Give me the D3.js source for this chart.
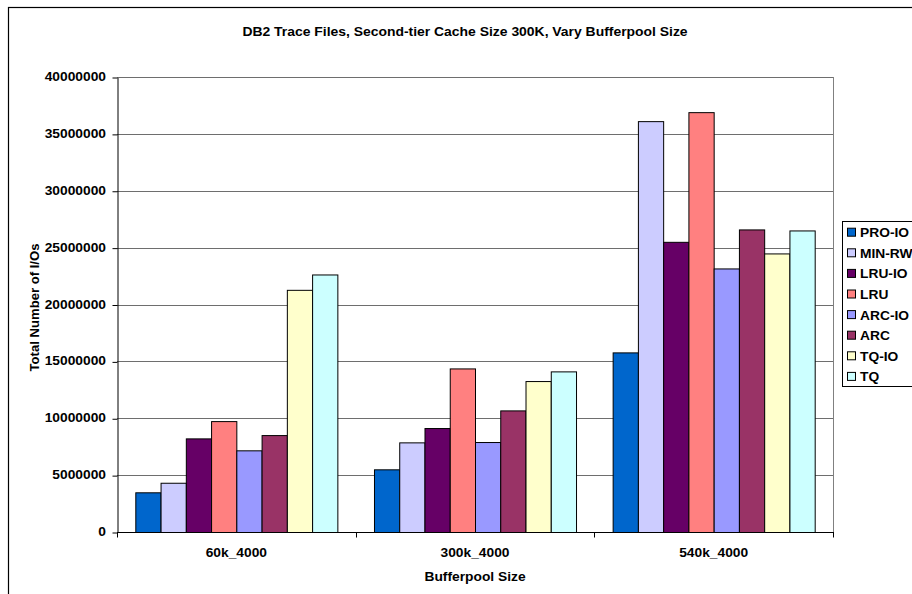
<!DOCTYPE html>
<html>
<head>
<meta charset="utf-8">
<script src="https://cdn.jsdelivr.net/npm/d3@7"></script>
<style>
  html, body { margin: 0; padding: 0; background: #fff; }
  svg { display: block; font-family: "Liberation Sans", Arial, sans-serif; }
</style>
</head>
<body>
<svg id="chart" width="912" height="594"></svg>
<script>
// Bufferpool configurations on the x axis
const categories = ["60k_4000", "300k_4000", "540k_4000"];
// Replacement policies, in legend order
const seriesNames = ["PRO-IO", "MIN-RW", "LRU-IO", "LRU", "ARC-IO", "ARC", "TQ-IO", "TQ"];
const seriesColors = ["#0066CC", "#CCCCFF", "#660066", "#FF8080", "#9999FF", "#993366", "#FFFFCC", "#CCFFFF"];
// Total number of I/Os per policy, one value per bufferpool configuration
const proIO  = [3490000, 5510000, 15790000];
const minRW  = [4330000, 7880000, 36120000];
const lruIO  = [8230000, 9140000, 25510000];
const lru    = [9750000, 14380000, 36910000];
const arcIO  = [7180000, 7910000, 23170000];
const arc    = [8520000, 10690000, 26600000];
const tqIO   = [21290000, 13270000, 24490000];
const tq     = [22640000, 14120000, 26510000];
const yTicks = [0, 5000000, 10000000, 15000000, 20000000, 25000000, 30000000, 35000000, 40000000];

const seriesValues = [proIO, minRW, lruIO, lru, arcIO, arc, tqIO, tq];

const svg = d3.select("#chart");
const plot = { left: 117, right: 833, top: 77, bottom: 532 };
const STRETCH = 1.15;

// Bold label, widened horizontally like the rest of the chart's lettering
function label(parent, x, y, text, anchor, size = 12, rotate = 0, sx = STRETCH) {
  return parent.append("text")
    .attr("transform", `translate(${x},${y})${rotate ? ` rotate(${rotate})` : ""} scale(${sx},1)`)
    .attr("text-anchor", anchor)
    .attr("font-size", size)
    .attr("font-weight", "bold")
    .attr("fill", "#000")
    .text(text);
}

// Chart area frame (extends past the right edge of the view)
svg.append("rect")
  .attr("x", 8.5).attr("y", 7.5)
  .attr("width", 940).attr("height", 600)
  .attr("fill", "#fff").attr("stroke", "#000").attr("stroke-width", 1.2);

const x0 = d3.scaleBand().domain(categories).range([plot.left, plot.right]).paddingInner(0).paddingOuter(0);
const x1 = d3.scaleBand().domain(seriesNames).range([0, x0.bandwidth()]).paddingInner(0).paddingOuter(0.725);
const y = d3.scaleLinear().domain([0, 40000000]).range([plot.bottom, plot.top]);

// Horizontal gridlines
svg.append("g")
  .selectAll("line")
  .data(yTicks.filter(d => d > 0))
  .join("line")
  .attr("x1", plot.left).attr("x2", plot.right)
  .attr("y1", d => Math.round(y(d)) + 0.5).attr("y2", d => Math.round(y(d)) + 0.5)
  .attr("stroke", "#6e6e6e").attr("stroke-width", 1);

// Plot area right edge
svg.append("line")
  .attr("x1", plot.right + 0.5).attr("x2", plot.right + 0.5)
  .attr("y1", plot.top).attr("y2", plot.bottom)
  .attr("stroke", "#808080").attr("stroke-width", 1);

// Bars
const groups = svg.append("g")
  .selectAll("g")
  .data(categories)
  .join("g")
  .attr("transform", d => `translate(${x0(d)},0)`);

groups.selectAll("rect")
  .data((c, ci) => seriesNames.map((s, si) => ({ s, si, v: seriesValues[si][ci] })))
  .join("rect")
  .attr("x", d => x1(d.s) + 0.5)
  .attr("y", d => y(d.v) + 0.5)
  .attr("width", x1.bandwidth())
  .attr("height", d => y(0) - y(d.v))
  .attr("fill", d => seriesColors[d.si])
  .attr("stroke", "#000").attr("stroke-width", 1);

// Y axis line and ticks
const yAxis = svg.append("g")
  .attr("transform", `translate(${plot.left + 0.5},0.5)`)
  .call(d3.axisLeft(y).tickValues(yTicks).tickSize(5).tickSizeOuter(0).tickFormat(""));
yAxis.select(".domain").attr("stroke", "#000");
yAxis.selectAll(".tick line").attr("stroke", "#000");
yAxis.selectAll(".tick text").remove();

// Y tick labels
const yLabels = svg.append("g");
yTicks.forEach(t => {
  label(yLabels, plot.left - 11, y(t) + 4, d3.format("d")(t), "end", 12);
});

// X axis: ticks sit on category boundaries
const xAxisG = svg.append("g")
  .attr("transform", `translate(0,${plot.bottom + 0.5})`);
xAxisG.append("line")
  .attr("x1", plot.left).attr("x2", plot.right + 1)
  .attr("stroke", "#000");
const boundaries = categories.map(c => x0(c)).concat([x0(categories[categories.length - 1]) + x0.bandwidth()]);
xAxisG.selectAll("line.tk")
  .data(boundaries)
  .join("line").attr("class", "tk")
  .attr("x1", d => Math.round(d) + 0.5).attr("x2", d => Math.round(d) + 0.5)
  .attr("y1", 0).attr("y2", 5)
  .attr("stroke", "#000");
categories.forEach(c => {
  label(svg, x0(c) + x0.bandwidth() / 2, 557, c, "middle", 12);
});

// Titles
label(svg, 465, 36, "DB2 Trace Files, Second-tier Cache Size 300K, Vary Bufferpool Size", "middle", 12, 0, 1.16);
label(svg, (plot.left + plot.right) / 2, 580.5, "Bufferpool Size", "middle", 12);
label(svg, 39, 307.5, "Total Number of I/Os", "middle", 12.5, -90, 1.05);

// Legend
const legend = svg.append("g").attr("transform", "translate(842,221)");
legend.append("rect")
  .attr("x", 0.5).attr("y", 0.5)
  .attr("width", 95).attr("height", 165)
  .attr("fill", "#fff").attr("stroke", "#000");
const items = legend.selectAll("g.item")
  .data(seriesNames)
  .join("g").attr("class", "item")
  .attr("transform", (d, i) => `translate(0,${11.7 + i * 20.6})`);
items.append("rect")
  .attr("x", 5.5).attr("y", -4.5)
  .attr("width", 8).attr("height", 8)
  .attr("fill", (d, i) => seriesColors[i])
  .attr("stroke", "#000");
items.each(function (d) {
  label(d3.select(this), 18, 4.5, d, "start", 12);
});
</script>
</body>
</html>
